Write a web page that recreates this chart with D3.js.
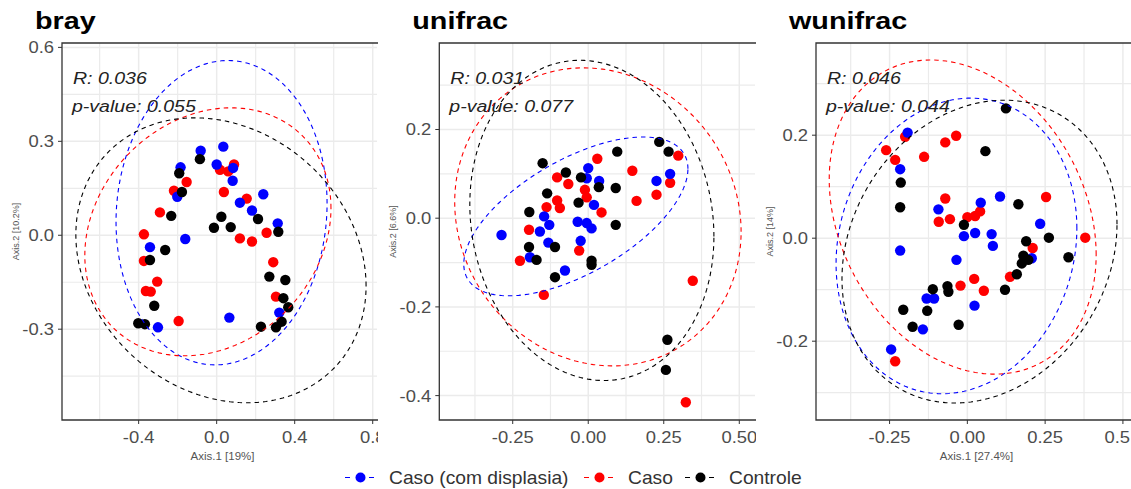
<!DOCTYPE html>
<html><head><meta charset="utf-8">
<script src="https://cdn.jsdelivr.net/npm/d3@7"></script>
<style>body{margin:0;background:#fff;} svg{display:block;font-family:"Liberation Sans",Arial,sans-serif;}</style>
</head><body><svg id="c" width="1131" height="489"></svg>
<script>
// ---------- data ----------
const groups = ["Caso (com displasia)", "Caso", "Controle"];
const groupColors = ["#0000ff", "#ff0000", "#000000"];
const panelTitles = ["bray", "unifrac", "wunifrac"];
const statR = ["0.036", "0.031", "0.046"];
const statP = ["0.055", "0.077", "0.044"];
const xTitles = ["Axis.1  [19%]", "", "Axis.1  [27.4%]"];
const yTitles = ["Axis.2  [10.2%]", "Axis.2  [6.6%]", "Axis.2  [14%]"];
const xTicks = [[-0.4, 0, 0.4, 0.8], [-0.25, 0, 0.25, 0.5], [-0.25, 0, 0.25, 0.5]];
const xTickLabels = [["-0.4", "0.0", "0.4", "0.8"], ["-0.25", "0.00", "0.25", "0.50"], ["-0.25", "0.00", "0.25", "0.5"]];
const yTicks = [[-0.3, 0, 0.3, 0.6], [-0.4, -0.2, 0, 0.2], [-0.2, 0, 0.2]];
const yTickLabels = [["-0.3", "0.0", "0.3", "0.6"], ["-0.4", "-0.2", "0.0", "0.2"], ["-0.2", "0.0", "0.2"]];
const xDomains = [[-0.793, 0.822], [-0.493, 0.552], [-0.4865, 0.526]];
const yDomains = [[-0.590, 0.614], [-0.455, 0.395], [-0.353, 0.379]];

// bray
const brayBlue = [[-0.082,0.270],[0.034,0.283],[0.000,0.226],[0.082,0.174],[0.239,0.131],[0.119,0.104],[0.181,0.079],[0.313,0.038],[-0.185,0.217],[-0.202,0.123],[-0.161,-0.012],[-0.342,-0.038],[-0.301,-0.294],[0.065,-0.263],[0.321,-0.247],[0.084,0.215]];
const brayRed = [[0.089,0.226],[0.017,0.209],[0.059,0.204],[-0.154,0.170],[-0.219,0.142],[0.037,0.138],[0.154,0.117],[-0.291,0.073],[-0.373,0.003],[0.119,-0.010],[0.181,-0.020],[0.256,0.008],[-0.373,-0.082],[0.290,-0.086],[-0.305,-0.148],[-0.363,-0.178],[-0.338,-0.180],[-0.195,-0.274],[0.304,-0.196]];
const brayBlack = [[-0.086,0.243],[-0.192,0.198],[-0.178,0.138],[-0.233,0.062],[0.024,0.059],[-0.014,0.024],[0.072,0.026],[0.212,0.052],[0.316,0.011],[-0.264,-0.047],[-0.342,-0.079],[0.270,-0.132],[0.352,-0.143],[-0.320,-0.225],[-0.402,-0.281],[-0.368,-0.284],[0.227,-0.292],[0.304,-0.294],[0.333,-0.276],[0.342,-0.201],[0.367,-0.230]];
// unifrac
const uniBlue = [[0.000,0.113],[0.036,0.084],[0.226,0.084],[0.271,0.100],[0.019,0.030],[-0.146,0.004],[-0.129,-0.015],[-0.160,-0.030],[-0.035,-0.008],[-0.005,-0.011],[0.011,-0.023],[-0.287,-0.038],[-0.025,-0.051],[-0.132,-0.055],[-0.193,-0.088],[-0.077,-0.118],[-0.005,0.090]];
const uniRed = [[0.030,0.134],[0.146,0.107],[0.298,0.141],[0.271,0.080],[0.226,0.053],[0.160,0.039],[-0.103,0.092],[-0.066,0.077],[-0.011,0.064],[-0.005,0.047],[-0.103,0.040],[-0.138,0.025],[-0.094,0.023],[0.044,0.013],[-0.196,-0.026],[-0.030,-0.073],[-0.226,-0.096],[-0.147,-0.173],[0.346,-0.141],[0.323,-0.415]];
const uniBlack = [[0.235,0.172],[0.266,0.150],[0.096,0.150],[-0.151,0.124],[-0.074,0.103],[-0.024,0.092],[0.035,0.070],[0.091,0.068],[-0.136,0.056],[-0.032,0.035],[-0.195,0.014],[0.091,-0.015],[-0.196,-0.065],[-0.110,-0.065],[-0.171,-0.094],[0.011,-0.096],[0.011,-0.105],[-0.110,-0.133],[0.262,-0.274],[0.257,-0.342]];
// wunifrac
const wuniBlue = [[-0.192,0.205],[-0.216,0.134],[-0.093,0.056],[0.043,0.069],[0.105,0.081],[0.234,0.028],[-0.011,0.004],[0.025,0.010],[0.078,0.008],[0.082,-0.015],[-0.216,-0.024],[-0.035,-0.042],[0.207,-0.039],[0.023,-0.131],[-0.131,-0.117],[-0.107,-0.117],[-0.143,-0.177],[-0.245,-0.216]];
const wuniRed = [[-0.200,0.197],[-0.261,0.171],[-0.232,0.152],[-0.139,0.158],[-0.071,0.186],[-0.036,0.199],[-0.071,0.077],[-0.092,0.032],[-0.056,0.037],[0.000,0.041],[0.025,0.043],[0.041,0.052],[0.253,0.080],[0.379,0.001],[0.210,-0.019],[0.137,-0.075],[0.022,-0.079],[0.053,-0.102],[-0.022,-0.092],[-0.232,-0.239]];
const wuniBlack = [[0.124,0.252],[0.058,0.169],[-0.214,0.108],[-0.216,0.060],[0.164,0.066],[-0.011,0.026],[0.262,0.001],[0.189,-0.006],[0.325,-0.037],[0.180,-0.034],[0.196,-0.042],[0.175,-0.049],[0.159,-0.070],[0.121,-0.100],[-0.064,-0.093],[-0.061,-0.104],[-0.111,-0.099],[-0.206,-0.139],[-0.129,-0.141],[-0.176,-0.172],[-0.028,-0.168]];

// ellipses: [cx, cy, rx, ry, rho] per group (blue, red, black)
const brayEllipses = [[0.025,0.072,0.541,0.486,0.06],[-0.045,0.011,0.631,0.396,0.19],[0.022,-0.080,0.744,0.455,-0.18]];
const uniEllipses = [[-0.041,0.004,0.371,0.179,0.6],[0.032,0.003,0.474,0.336,-0.1],[0.012,-0.005,0.404,0.361,-0.1]];
const wuniEllipses = [[-0.035,-0.015,0.387,0.287,0.12],[-0.015,0.041,0.429,0.305,-0.24],[0.039,-0.026,0.442,0.294,0.18]];

const panelPoints = [[brayBlue, brayRed, brayBlack], [uniBlue, uniRed, uniBlack], [wuniBlue, wuniRed, wuniBlack]];
const panelEllipses = [brayEllipses, uniEllipses, wuniEllipses];

// ---------- layout ----------
const frames = [
  {x0: 62, x1: 377, y0: 43, y1: 420, c0: 0, c1: 378},
  {x0: 439.3, x1: 755, y0: 43, y1: 420, c0: 380, c1: 756},
  {x0: 816, x1: 1131, y0: 43, y1: 420, c0: 760, c1: 1131}
];
const SX = 1.15; // horizontal text stretch
const svg = d3.select("#c");
const defs = svg.append("defs");

function stext(g, x, y, s, o) {
  o = o || {};
  const t = g.append("text")
    .attr("transform", `translate(${x},${y}) scale(${o.sx || SX},1)`)
    .attr("font-size", o.size || 14)
    .attr("fill", o.fill || "#4d4d4d")
    .attr("text-anchor", o.anchor || "start")
    .text(s);
  if (o.weight) t.attr("font-weight", o.weight);
  if (o.style) t.attr("font-style", o.style);
  return t;
}

function gridVals(ticks, dom) {
  const step = (ticks[1] - ticks[0]) / 2;
  const out = [];
  for (let v = ticks[0] - 4 * step; v <= dom[1] + 1e-9; v += step) {
    if (v >= dom[0] - 1e-9) out.push({v: v, major: ticks.some(t => Math.abs(t - v) < 1e-9)});
  }
  return out;
}

frames.forEach((f, i) => {
  const x = d3.scaleLinear().domain(xDomains[i]).range([f.x0, f.x1]);
  const y = d3.scaleLinear().domain(yDomains[i]).range([f.y1, f.y0]);

  defs.append("clipPath").attr("id", "col" + i).append("rect")
    .attr("x", f.c0).attr("y", 0).attr("width", f.c1 - f.c0).attr("height", 489);
  defs.append("clipPath").attr("id", "plot" + i).append("rect")
    .attr("x", f.x0).attr("y", f.y0).attr("width", f.x1 - f.x0).attr("height", f.y1 - f.y0);

  const g = svg.append("g").attr("clip-path", `url(#col${i})`);
  const pg = g.append("g").attr("clip-path", `url(#plot${i})`);

  // grid
  gridVals(xTicks[i], xDomains[i]).forEach(d => {
    pg.append("line").attr("x1", x(d.v)).attr("x2", x(d.v)).attr("y1", f.y0).attr("y2", f.y1)
      .attr("stroke", "#ebebeb").attr("stroke-width", d.major ? 1.5 : 1.2);
  });
  gridVals(yTicks[i].slice().sort((a, b) => a - b), yDomains[i]).forEach(d => {
    pg.append("line").attr("y1", y(d.v)).attr("y2", y(d.v)).attr("x1", f.x0).attr("x2", f.x1)
      .attr("stroke", "#ebebeb").attr("stroke-width", d.major ? 1.5 : 1.2);
  });

  // points
  const order = [1, 0, 2];
  order.forEach(k => {
    pg.append("g").selectAll("circle").data(panelPoints[i][k]).join("circle")
      .attr("cx", d => x(d[0])).attr("cy", d => y(d[1])).attr("r", 5.2)
      .attr("fill", groupColors[k]);
  });

  // ellipses
  const line = d3.line().x(d => x(d[0])).y(d => y(d[1]));
  panelEllipses[i].forEach((e, k) => {
    const [cx, cy, rx, ry, rho] = e;
    const pts = d3.range(0, 201).map(j => {
      const t = j / 200 * 2 * Math.PI;
      return [cx + rx * Math.cos(t), cy + ry * (rho * Math.cos(t) + Math.sqrt(1 - rho * rho) * Math.sin(t))];
    });
    pg.append("path").attr("d", line(pts)).attr("fill", "none")
      .attr("stroke", groupColors[k]).attr("stroke-width", 1.1).attr("stroke-dasharray", "4.5,4");
  });

  // border (top, left, bottom)
  g.append("path").attr("d", `M${f.x1 + 2},${f.y0}H${f.x0}V${f.y1}H${f.x1 + 2}`)
    .attr("fill", "none").attr("stroke", "#333").attr("stroke-width", 1.3);

  // ticks + labels
  xTicks[i].forEach((t, j) => {
    g.append("line").attr("x1", x(t)).attr("x2", x(t)).attr("y1", f.y1).attr("y2", f.y1 + 4).attr("stroke", "#333");
    const lbl = xTickLabels[i][j];
    const nearEdge = x(t) + 14 > 1131;
    stext(g, nearEdge ? 1130 : x(t), f.y1 + 23, lbl, {size: 16, anchor: nearEdge ? "end" : "middle"});
  });
  yTicks[i].forEach((t, j) => {
    g.append("line").attr("y1", y(t)).attr("y2", y(t)).attr("x1", f.x0 - 4).attr("x2", f.x0).attr("stroke", "#333");
    stext(g, f.x0 - 8, y(t) + 6, yTickLabels[i][j], {size: 16, anchor: "end"});
  });

  // titles
  stext(g, f.x0 - 27, 29, panelTitles[i], {size: 23, weight: "bold", fill: "#000", sx: 1.25});
  if (xTitles[i]) stext(g, (f.x0 + f.x1) / 2 + 3, 460, xTitles[i], {size: 10, anchor: "middle", fill: "#555"});
  const yc = (f.y0 + f.y1) / 2;
  g.append("text").attr("transform", `translate(${f.x0 - 43},${yc}) rotate(-90)`)
    .attr("font-size", 9).attr("fill", "#555").attr("text-anchor", "middle").text(yTitles[i]);

  // stats
  stext(g, f.x0 + 11, 84, "R: " + statR[i], {size: 17, style: "italic", fill: "#222"});
  stext(g, f.x0 + 10, 112, "p-value: " + statP[i], {size: 17, style: "italic", fill: "#222"});
});

// legend
const legX = [345, 584, 685];
const lg = svg.append("g");
groups.forEach((name, k) => {
  const lx = legX[k], ly = 477.5;
  lg.append("line").attr("x1", lx).attr("x2", lx + 29).attr("y1", ly).attr("y2", ly)
    .attr("stroke", groupColors[k]).attr("stroke-width", 1.2).attr("stroke-dasharray", "5,19");
  lg.append("circle").attr("cx", lx + 15.5).attr("cy", ly).attr("r", 5).attr("fill", groupColors[k]);
  stext(lg, lx + 44, ly + 6.5, name, {size: 18.5, sx: 1.04, fill: "#333"});
});
</script></body></html>
